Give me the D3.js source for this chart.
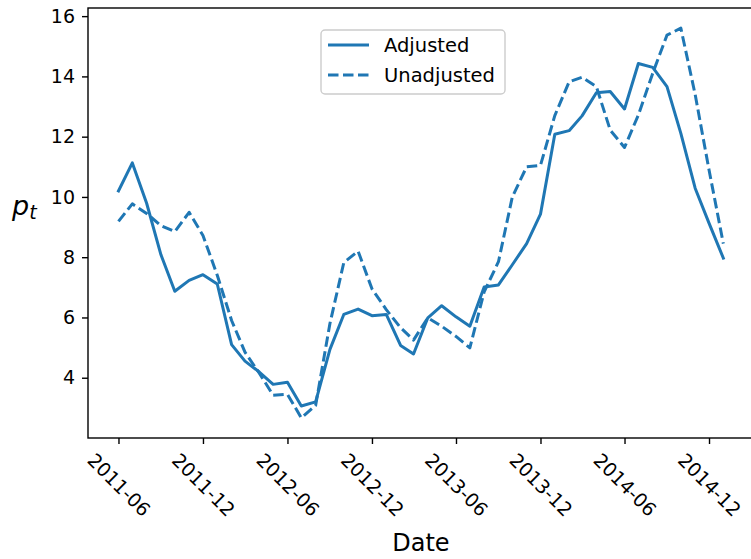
<!DOCTYPE html>
<html>
<head>
<meta charset="utf-8">
<script src="https://cdn.jsdelivr.net/npm/d3@7"></script>
<style>
  body { margin: 0; background: #fff; }
  svg { display: block; font-family: "DejaVu Sans", sans-serif; }
</style>
</head>
<body>
<svg id="chart" width="751" height="559"></svg>
<script>
// Monthly observations, first of each month
const startMonth = "2011-06-01";
const monthCount = 44;

const adjusted = [
  10.2, 11.13, 9.79, 8.08, 6.87, 7.23, 7.42,
  7.11, 5.10, 4.55, 4.19, 3.78, 3.85, 3.06, 3.2, 4.94, 6.10, 6.28, 6.06,
  6.10, 5.07, 4.79, 5.99, 6.39, 6.02, 5.71, 7.01, 7.08, 7.75, 8.45, 9.43,
  12.08, 12.2, 12.69, 13.46, 13.5, 12.92, 14.43, 14.3, 13.66, 12.11, 10.29, 9.13,
  7.97
];

const unadjusted = [
  9.19, 9.77, 9.45, 9.05, 8.85, 9.49, 8.72,
  7.4, 5.9, 4.85, 4.15, 3.42, 3.45, 2.67, 3.08, 5.8, 7.82, 8.2, 6.95,
  6.26, 5.66, 5.25, 5.99, 5.71, 5.37, 4.99, 6.85, 7.85, 10.0, 11.0, 11.05,
  12.7, 13.82, 13.97, 13.66, 12.22, 11.64, 12.72, 14.1, 15.37, 15.6, 13.4, 10.9,
  8.45
];

const xTickLabels = ["2011-06", "2011-12", "2012-06", "2012-12", "2013-06", "2013-12", "2014-06", "2014-12"];
const yTicks = [4, 6, 8, 10, 12, 14, 16];
const seriesNames = ["Adjusted", "Unadjusted"];

const parse = d3.utcParse("%Y-%m-%d");
const parseMonth = d3.utcParse("%Y-%m");
const dates = d3.utcMonth.range(parse(startMonth), d3.utcMonth.offset(parse(startMonth), monthCount));

const color = "#1f77b4";
const lineWidth = 3.0;
const dash = "10.5,4.5";
const tickFont = 19;
const svg = d3.select("#chart");

const plot = { left: 88, right: 753.8, top: 8, bottom: 438 };

const pad = 66; // days of margin on each side of the data
const x = d3.scaleUtc()
  .domain([d3.utcDay.offset(dates[0], -pad), d3.utcDay.offset(dates[dates.length - 1], pad)])
  .range([plot.left, plot.right]);

const y = d3.scaleLinear()
  .domain([2.0, 16.27])
  .range([plot.bottom, plot.top]);

// Lines
const line = d3.line()
  .x((d, i) => x(dates[i]))
  .y(d => y(d));

svg.append("path")
  .datum(adjusted)
  .attr("d", line)
  .attr("fill", "none")
  .attr("stroke", color)
  .attr("stroke-width", lineWidth)
  .attr("stroke-linejoin", "round")
  .attr("stroke-linecap", "square");

svg.append("path")
  .datum(unadjusted)
  .attr("d", line)
  .attr("fill", "none")
  .attr("stroke", color)
  .attr("stroke-width", lineWidth)
  .attr("stroke-dasharray", dash)
  .attr("stroke-linejoin", "round");

// Axes
const xAxis = d3.axisBottom(x)
  .tickValues(xTickLabels.map(s => parseMonth(s)))
  .tickFormat(d3.utcFormat("%Y-%m"))
  .tickSize(6)
  .tickSizeOuter(0);

const gx = svg.append("g")
  .attr("transform", `translate(0,${plot.bottom})`)
  .call(xAxis);
gx.select(".domain").remove();
gx.selectAll(".tick line").attr("stroke", "#000").attr("stroke-width", 1.4);
gx.selectAll(".tick text")
  .attr("font-size", tickFont)
  .attr("font-family", "DejaVu Sans")
  .attr("fill", "#000")
  .attr("text-anchor", "middle")
  .attr("dy", "0.35em")
  .each(function () {
    const t = d3.select(this);
    const w = this.getComputedTextLength();
    const h = tickFont * 1.17;
    const cy = 11 + (w + h) / (2 * Math.SQRT2);
    t.attr("y", 0).attr("transform", `translate(0,${cy}) rotate(45)`);
  });

const yAxis = d3.axisLeft(y)
  .tickValues(yTicks)
  .tickFormat(d3.format("d"))
  .tickSize(6)
  .tickPadding(7)
  .tickSizeOuter(0);

const gy = svg.append("g")
  .attr("transform", `translate(${plot.left},0)`)
  .call(yAxis);
gy.select(".domain").remove();
gy.selectAll(".tick line").attr("stroke", "#000").attr("stroke-width", 1.4);
gy.selectAll(".tick text")
  .attr("font-size", tickFont)
  .attr("font-family", "DejaVu Sans")
  .attr("fill", "#000");

// Frame (spines)
svg.append("rect")
  .attr("x", plot.left)
  .attr("y", plot.top)
  .attr("width", plot.right - plot.left)
  .attr("height", plot.bottom - plot.top)
  .attr("fill", "none")
  .attr("stroke", "#000")
  .attr("stroke-width", 1.4);

// Axis labels
svg.append("text")
  .attr("x", (plot.left + plot.right) / 2)
  .attr("y", 551)
  .attr("text-anchor", "middle")
  .attr("font-size", 24)
  .attr("fill", "#000")
  .text("Date");

const yl = svg.append("text")
  .attr("x", 12)
  .attr("y", 215)
  .attr("font-size", 27)
  .attr("fill", "#000");
yl.append("tspan").attr("font-style", "italic").text("p");
yl.append("tspan").attr("font-style", "italic").attr("font-size", 19).attr("dy", 4).text("t");

// Legend
const lg = svg.append("g").attr("transform", "translate(321,30)");
lg.append("rect")
  .attr("width", 184)
  .attr("height", 64)
  .attr("rx", 4)
  .attr("fill", "#fff")
  .attr("fill-opacity", 0.8)
  .attr("stroke", "#cccccc")
  .attr("stroke-width", 1.4);

seriesNames.forEach((name, i) => {
  const row = lg.append("g").attr("transform", `translate(0,${15 + i * 30})`);
  row.append("line")
    .attr("x1", 7).attr("x2", 48)
    .attr("y1", 0).attr("y2", 0)
    .attr("stroke", color)
    .attr("stroke-width", lineWidth)
    .attr("stroke-dasharray", i === 1 ? dash : null);
  row.append("text")
    .attr("x", 63)
    .attr("y", 0)
    .attr("dy", "0.36em")
    .attr("font-size", 19.5)
    .attr("fill", "#000")
    .text(name);
});
</script>
</body>
</html>
